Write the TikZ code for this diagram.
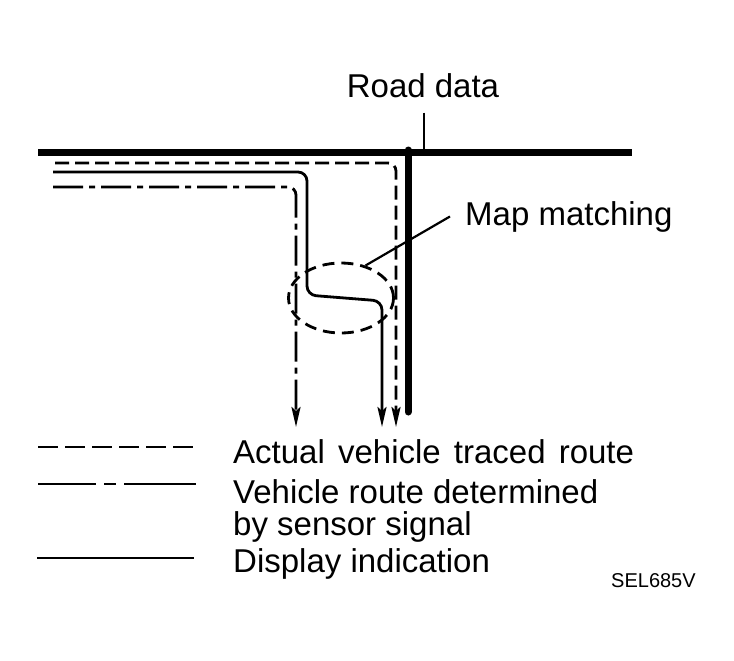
\documentclass[tikz,border=0pt]{standalone}
\usepackage{fontspec}
\setmainfont{Liberation Sans}
\usetikzlibrary{arrows.meta,shapes.geometric}
\tikzset{
  route/.style={line width=2.8pt},
  dashroute/.style={route, dash pattern=on 14pt off 6pt},
  dashdotroute/.style={route, dash pattern=on 30pt off 6pt on 6pt off 6pt},
  legdash/.style={route, dash pattern=on 20pt off 7pt},
  legdashdot/.style={route, dash pattern=on 58pt off 8pt on 12pt off 8pt on 80pt off 10pt},
  arr/.style={-{Stealth[length=20pt,width=9pt,inset=4pt]}},
  lbl/.style={font=\fontsize{33}{33}\selectfont, inner sep=0pt},
  road/.style={line width=7pt},
  leader/.style={line width=2.2pt},
}
\begin{document}
\begin{tikzpicture}[x=1pt,y=-1pt]
\useasboundingbox (0,0) rectangle (734,661);
% road
\draw[road] (38,152) -- (632,152);
\draw[road, line cap=round] (408,150) -- (408,412);
% routes
\draw[dashroute, rounded corners=8pt, arr] (55,163) -- (396,163) -- (396,427);
\draw[route, rounded corners=9pt, arr] (53,172) -- (307,172) -- (307,295) -- (382,301) -- (382,427);
\draw[dashdotroute, rounded corners=8pt, arr] (53,187) -- (296,187) -- (296,427);
% map matching
\node[ellipse, draw, line width=2.8pt, dash pattern=on 12pt off 7pt, minimum width=105pt, minimum height=70pt, inner sep=0pt] (mm) at (341,298) {};
\node[lbl, anchor=base west] (mmt) at (465,225) {Map matching};
\draw[leader] (mm.53) -- ([xshift=-15pt]mmt.west);
% road data
\node[lbl, anchor=base] (rd) at (423,97) {Road data};
\coordinate (rdp) at (424,152);
\draw[leader] ([yshift=-15pt]rd.south -| rdp) -- (rdp);
% legend
\draw[legdash] (38,447) -- (195,447);
\draw[legdashdot] (38,484) -- (196,484);
\draw[route] (37,558) -- (194,558);
\node[lbl, anchor=base west] (l1) at (233,463) {Actual\hspace{4pt} vehicle\hspace{4pt} traced\hspace{4pt} route};
\node[lbl, anchor=base west] (l2) at (233,503) {Vehicle route determined};
\node[lbl, anchor=base west] (l3) at (233,535) {by sensor signal};
\node[lbl, anchor=base west] (l4) at (233,572) {Display indication};
\node[font=\fontsize{20}{20}\selectfont, anchor=base west, inner sep=0pt] (code) at (611,587) {SEL685V};
\end{tikzpicture}
\end{document}
